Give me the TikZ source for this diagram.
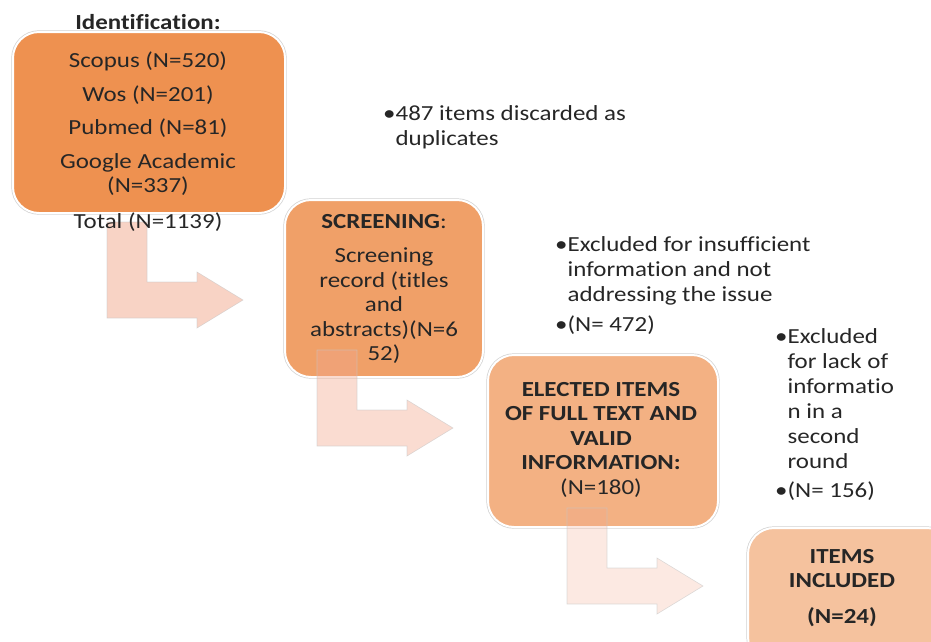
\documentclass[tikz,border=0pt]{standalone}
\usepackage{fontspec}
\setmainfont{Carlito}[FakeStretch=1.16, Ligatures=NoCommon]

\definecolor{idorange}{RGB}{238,145,80}
\definecolor{scrorange}{RGB}{240,160,104}
\definecolor{elorange}{RGB}{243,177,131}
\definecolor{inorange}{RGB}{245,194,158}
\definecolor{arrowpink}{RGB}{242,167,139}

\tikzset{
  stagebox/.style={rectangle, rounded corners=26pt, draw=white, line width=2pt,
    preaction={draw=black!18, line width=3.4pt}},
  boxtext/.style={align=center, inner sep=0pt, anchor=north, text=black!85,
    font=\fontsize{21.5}{24.5}\selectfont},
  notetext/.style={align=left, inner sep=0pt, anchor=north west, text=black!85,
    font=\fontsize{21.5}{25}\selectfont},
  flowarrow/.style={fill=arrowpink, draw=black!22, draw opacity=0.6, line width=0.6pt},
}

% bent arrow: stem top left corner, opacity
\newcommand{\bendarrow}[3]{%
  \draw[flowarrow, fill opacity=#3] (#1,#2) -- ++(40,0) -- ++(0,60) -- ++(50,0)
    -- ++(0,-10) -- ++(46,28) -- ++(-46,28) -- ++(0,-10) -- ++(-90,0) -- cycle;}

\begin{document}
\begin{tikzpicture}[x=1pt,y=-1pt]
\useasboundingbox (0,0) rectangle (931,641);

\node[stagebox, fill=idorange, minimum width=272pt, minimum height=181pt] (ident) at (149,122.5) {};
\node[stagebox, fill=scrorange, minimum width=198pt, minimum height=177pt] (screen) at (384,288.5) {};
\node[stagebox, fill=elorange, minimum width=230pt, minimum height=172pt] (elect) at (603,441) {};
\node[stagebox, fill=inorange, minimum width=205pt, minimum height=135pt] (incl) at (850.5,595.5) {};

\bendarrow{107}{222}{0.5}
\bendarrow{317}{350}{0.4}
\bendarrow{567}{508}{0.25}

\node[boxtext] (idtext) at (148,14) {\textbf{Identification:}\\[14pt]
  Scopus (N=520)\\[9pt] Wos (N=201)\\[9pt] Pubmed (N=81)\\[9pt]
  Google Academic\\ (N=337)\\[11pt] Total (N=1139)};
\node[boxtext] (screentext) at (384,214) {\textbf{SCREENING}:\\[10pt]
  Screening\\ record (titles\\ and\\ abstracts)(N=6\\ 52)};
\node[boxtext] (electtext) at (601,382) {\textbf{ELECTED ITEMS}\\ \textbf{OF FULL TEXT AND}\\
  \textbf{VALID}\\ \textbf{INFORMATION:}\\ (N=180)};
\node[boxtext] (incltext) at (842,549) {\textbf{ITEMS}\\ \textbf{INCLUDED}\\[11pt] \textbf{(N=24)}};

\node[notetext] (dupnote) at (383,105) {•487 items discarded as\\ \phantom{•}duplicates};
\node[notetext] (insuffnote) at (555,236) {•Excluded for insufficient\\
  \phantom{•}information and not\\ \phantom{•}addressing the issue\\[5pt] •(N= 472)};
\node[notetext] (lacknote) at (775,328) {•Excluded\\ \phantom{•}for lack of\\
  \phantom{•}informatio\\ \phantom{•}n in a\\ \phantom{•}second\\ \phantom{•}round\\[4pt] •(N= 156)};
\end{tikzpicture}
\end{document}
